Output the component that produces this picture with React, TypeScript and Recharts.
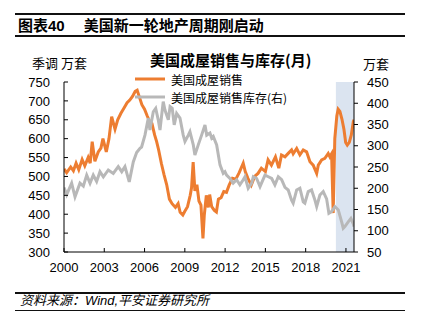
import { LineChart, Line, XAxis, YAxis, ReferenceArea, Legend } from "recharts";

// 美国成屋销售（季调，万套），左轴
const salesPoints: [number, number][] = [
  [2000.0, 520], [2000.2, 510], [2000.5, 525], [2000.7, 515], [2000.9, 535],
  [2001.1, 518], [2001.35, 545], [2001.55, 528], [2001.8, 550], [2001.95, 535],
  [2002.1, 592], [2002.3, 540], [2002.55, 565], [2002.75, 575], [2002.9, 600],
  [2003.15, 565], [2003.35, 600], [2003.55, 658], [2003.8, 625], [2004.0, 650],
  [2004.25, 668], [2004.45, 680], [2004.7, 695], [2004.9, 702], [2005.1, 712],
  [2005.3, 725], [2005.45, 728], [2005.6, 712], [2005.8, 690], [2006.0, 678],
  [2006.2, 660], [2006.35, 648], [2006.55, 640], [2006.75, 610], [2006.9, 592],
  [2007.05, 570], [2007.25, 535], [2007.45, 505], [2007.65, 478], [2007.85, 440],
  [2008.05, 428], [2008.3, 418], [2008.5, 428], [2008.65, 405], [2008.85, 398],
  [2009.0, 408], [2009.2, 420], [2009.4, 450], [2009.5, 470], [2009.62, 538],
  [2009.75, 462], [2009.9, 478], [2010.05, 435], [2010.2, 424], [2010.35, 336],
  [2010.45, 398], [2010.6, 450], [2010.75, 418], [2010.85, 452], [2011.0, 420],
  [2011.2, 410], [2011.35, 406], [2011.5, 440], [2011.7, 444], [2011.9, 460],
  [2012.1, 458], [2012.3, 477], [2012.55, 495], [2012.8, 493], [2013.05, 510],
  [2013.35, 535], [2013.5, 513], [2013.7, 495], [2013.95, 477], [2014.2, 500],
  [2014.45, 508], [2014.7, 522], [2015.0, 513], [2015.2, 544], [2015.45, 530],
  [2015.75, 552], [2016.0, 522], [2016.2, 557], [2016.46, 552], [2016.7, 561],
  [2016.95, 570], [2017.07, 560], [2017.33, 574], [2017.57, 557], [2017.82, 570],
  [2018.07, 565], [2018.32, 539], [2018.56, 530], [2018.82, 508], [2018.94, 530],
  [2019.19, 544], [2019.43, 548], [2019.68, 561], [2019.8, 552], [2019.93, 560],
  [2020.05, 403], [2020.17, 600], [2020.32, 660], [2020.42, 678], [2020.55, 672],
  [2020.7, 652], [2020.85, 625], [2020.98, 590], [2021.1, 583], [2021.25, 590],
  [2021.4, 610], [2021.55, 645], [2021.6, 650],
];

// 美国成屋销售库存（万套），右轴
const inventoryPoints: [number, number][] = [
  [2000.0, 202], [2000.2, 185], [2000.57, 212], [2000.82, 180], [2001.19, 212],
  [2001.44, 205], [2001.69, 231], [2001.94, 212], [2002.18, 231], [2002.43, 216],
  [2002.68, 239], [2002.93, 227], [2003.3, 243], [2003.67, 235], [2004.04, 251],
  [2004.3, 239], [2004.54, 251], [2004.86, 215], [2005.16, 262], [2005.41, 284],
  [2005.66, 294], [2005.78, 297], [2006.03, 325], [2006.28, 365], [2006.4, 337],
  [2006.65, 380], [2006.83, 388], [2007.02, 361], [2007.15, 337], [2007.39, 404],
  [2007.52, 384], [2007.77, 361], [2007.9, 392], [2008.06, 388], [2008.21, 349],
  [2008.39, 376], [2008.64, 365], [2008.88, 325], [2009.01, 310], [2009.26, 325],
  [2009.38, 333], [2009.63, 302], [2009.75, 278], [2010.0, 302], [2010.25, 325],
  [2010.5, 349], [2010.63, 325], [2010.87, 330], [2011.0, 318], [2011.12, 322],
  [2011.37, 302], [2011.62, 255], [2011.86, 235], [2011.99, 239], [2012.11, 231],
  [2012.36, 223], [2012.6, 212], [2012.86, 220], [2013.1, 208], [2013.35, 220],
  [2013.48, 227], [2013.72, 200], [2013.98, 212], [2014.1, 227], [2014.35, 223],
  [2014.6, 204], [2014.97, 231], [2015.22, 227], [2015.47, 223], [2015.71, 208],
  [2015.96, 227], [2016.21, 220], [2016.46, 202], [2016.7, 196], [2016.95, 172],
  [2017.07, 165], [2017.33, 196], [2017.57, 200], [2017.82, 168], [2017.94, 165],
  [2018.19, 192], [2018.44, 196], [2018.69, 172], [2018.82, 157], [2019.06, 184],
  [2019.31, 192], [2019.56, 175], [2019.73, 141], [2019.93, 145], [2020.18, 157],
  [2020.43, 149], [2020.68, 121], [2020.8, 106], [2020.92, 110], [2021.17, 121],
  [2021.37, 129], [2021.54, 117], [2021.6, 110],
];

const yearTicks = [2000, 2003, 2006, 2009, 2012, 2015, 2018, 2021];
const leftTicks = [300, 350, 400, 450, 500, 550, 600, 650, 700, 750];
const rightTicks = [50, 100, 150, 200, 250, 300, 350, 400, 450];

const salesData = salesPoints.map(([x, v]) => ({ x, v }));
const inventoryData = inventoryPoints.map(([x, v]) => ({ x, v }));

const ORANGE = "#ed7d31";
const GRAY = "#b8b8b8";
const latin = "'Liberation Sans', Arial, 'Noto Sans CJK SC', sans-serif";
const cjk = "'Noto Sans CJK SC', 'Liberation Sans', sans-serif";
const tickStyle = { fontSize: 13, fill: "#000", fontFamily: latin };

function LegendBox() {
  return (
    <svg width={200} height={36}>
      <line x1={0} y1={9} x2={30} y2={9} stroke={ORANGE} strokeWidth={3} />
      <text x={36} y={9} dominantBaseline="central" fontSize={12} fontFamily={cjk} fill="#000">
        美国成屋销售
      </text>
      <line x1={0} y1={27} x2={30} y2={27} stroke={GRAY} strokeWidth={3} />
      <text x={36} y={27} dominantBaseline="central" fontSize={12} fontFamily={cjk} fill="#000">
        美国成屋销售库存(右)
      </text>
    </svg>
  );
}

const rule = (top: number, h: number) => (
  <div style={{ position: "absolute", left: 15, top, width: 390, height: h, background: "#111" }} />
);

export default function App() {
  return (
    <div style={{ position: "absolute", left: 0, top: 0, width: 422, height: 328, background: "#fff" }}>
      {rule(13, 2)}
      <div
        style={{
          position: "absolute", left: 18, top: 16, height: 20, lineHeight: "20px",
          fontSize: 15, fontWeight: "bold", fontFamily: latin, color: "#000", whiteSpace: "nowrap",
        }}
      >
        图表40<span style={{ marginLeft: 19 }}>美国新一轮地产周期刚启动</span>
      </div>
      {rule(35, 2)}

      <LineChart
        width={422}
        height={328}
        margin={{ top: 82, right: 0, bottom: 0, left: 0 }}
        style={{ position: "absolute", left: 0, top: 0 }}
      >
        <XAxis
          dataKey="x"
          type="number"
          domain={[2000, 2021.6]}
          ticks={yearTicks}
          allowDataOverflow
          height={76}
          tick={tickStyle}
          tickSize={-4}
          tickMargin={15}
          stroke="#000"
          interval={0}
        />
        <YAxis
          yAxisId="left"
          domain={[300, 750]}
          ticks={leftTicks}
          width={64}
          tick={tickStyle}
          tickSize={-4}
          tickMargin={18}
          stroke="#000"
          interval={0}
          allowDataOverflow
        />
        <YAxis
          yAxisId="right"
          orientation="right"
          domain={[50, 450]}
          ticks={rightTicks}
          width={68}
          tick={tickStyle}
          tickSize={4}
          tickMargin={9}
          stroke="#000"
          interval={0}
          allowDataOverflow
        />
        <ReferenceArea yAxisId="left" x1={2020.25} x2={2021.6} fill="#dbe4f0" fillOpacity={1} stroke="none" />
        <Line
          yAxisId="left"
          data={salesData}
          dataKey="v"
          type="linear"
          stroke={ORANGE}
          strokeWidth={3}
          dot={false}
          isAnimationActive={false}
        />
        <Line
          yAxisId="right"
          data={inventoryData}
          dataKey="v"
          type="linear"
          stroke={GRAY}
          strokeWidth={3}
          dot={false}
          isAnimationActive={false}
        />
        <Legend
          layout="horizontal"
          verticalAlign="middle"
          align="center"
          content={() => <LegendBox />}
          wrapperStyle={{ top: 70, left: 135, width: 200, height: 36 }}
        />
      </LineChart>

      <div style={{ position: "absolute", left: 32, top: 54, lineHeight: "18px", fontSize: 13, fontFamily: cjk, color: "#000" }}>
        季调 万套
      </div>
      <div
        style={{
          position: "absolute", left: 150, top: 50, lineHeight: "19px", fontSize: 15,
          fontWeight: "bold", fontFamily: cjk, color: "#000", whiteSpace: "nowrap",
        }}
      >
        美国成屋销售与库存(月)
      </div>
      <div style={{ position: "absolute", left: 363, top: 55, lineHeight: "18px", fontSize: 13, fontFamily: cjk, color: "#000" }}>
        万套
      </div>

      {rule(292, 1.5)}
      <div
        style={{
          position: "absolute", left: 20, top: 292, lineHeight: "18px", fontSize: 13,
          fontStyle: "italic", fontFamily: latin, color: "#000", whiteSpace: "nowrap",
        }}
      >
        资料来源：Wind,平安证券研究所
      </div>
      {rule(309.5, 1.5)}
    </div>
  );
}
